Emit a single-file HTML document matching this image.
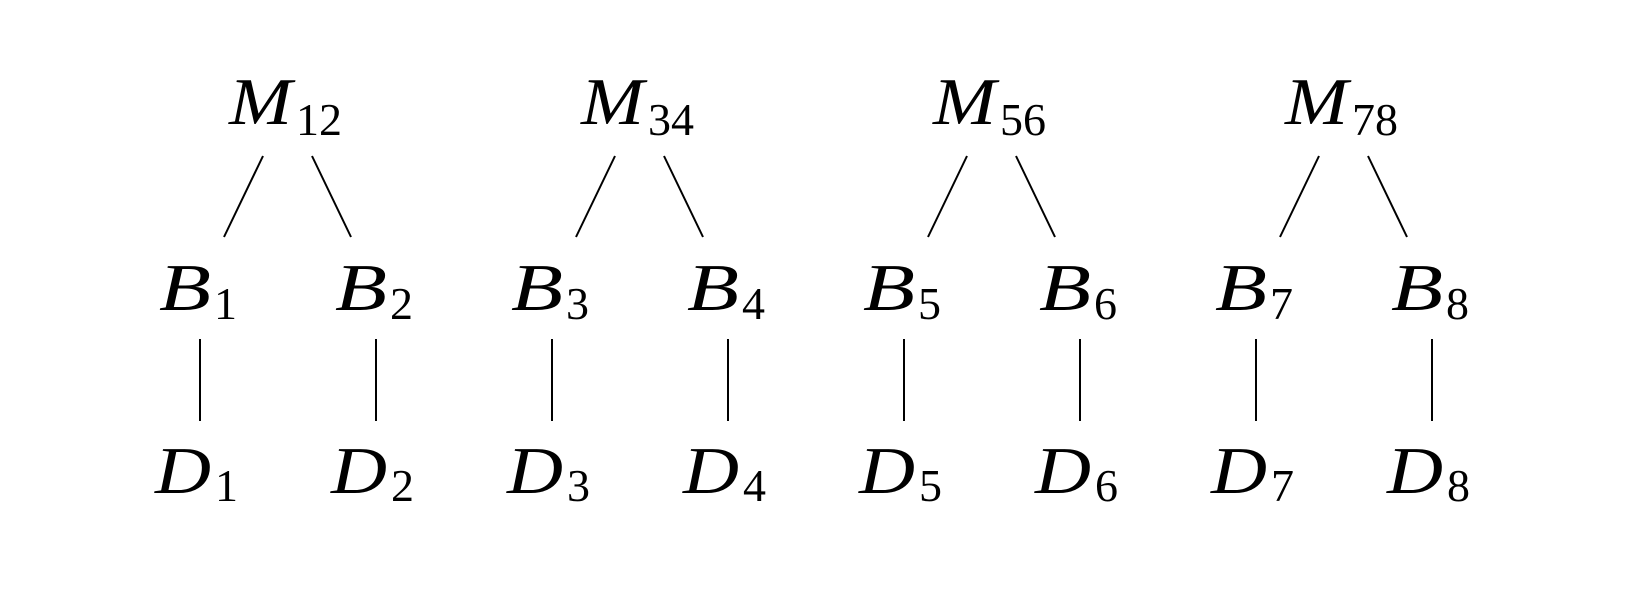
<!DOCTYPE html>
<html><head><meta charset="utf-8"><style>
html,body{margin:0;padding:0;background:#fff;}
svg{display:block}
text{font-family:"Liberation Serif",serif;fill:#000}
.v{font-style:italic;font-size:67px}
.s{font-size:46px}
</style></head><body>
<svg width="1638" height="598" viewBox="0 0 1638 598" xmlns="http://www.w3.org/2000/svg">
<g stroke="#000" stroke-width="2" fill="none">
<g id="t0">
<line x1="263" y1="156" x2="224" y2="237"/>
<line x1="312" y1="156" x2="351" y2="237"/>
<line x1="200" y1="339" x2="200" y2="421"/>
<line x1="376" y1="339" x2="376" y2="421"/>
</g>
<use href="#t0" x="352"/>
<use href="#t0" x="704"/>
<use href="#t0" x="1056"/>
</g>
<g>
<text class="v" x="229" y="124" textLength="63" lengthAdjust="spacingAndGlyphs">M</text>
<text class="s" x="296" y="135">12</text>
<text class="v" x="159" y="310" textLength="52" lengthAdjust="spacingAndGlyphs">B</text>
<text class="s" x="214" y="319">1</text>
<text class="v" x="335" y="310" textLength="52" lengthAdjust="spacingAndGlyphs">B</text>
<text class="s" x="390" y="319">2</text>
<text class="v" x="155" y="493" textLength="56" lengthAdjust="spacingAndGlyphs">D</text>
<text class="s" x="215" y="501">1</text>
<text class="v" x="331" y="493" textLength="56" lengthAdjust="spacingAndGlyphs">D</text>
<text class="s" x="391" y="501">2</text>
</g>
<g transform="translate(352,0)">
<text class="v" x="229" y="124" textLength="63" lengthAdjust="spacingAndGlyphs">M</text>
<text class="s" x="296" y="135">34</text>
<text class="v" x="159" y="310" textLength="52" lengthAdjust="spacingAndGlyphs">B</text>
<text class="s" x="214" y="319">3</text>
<text class="v" x="335" y="310" textLength="52" lengthAdjust="spacingAndGlyphs">B</text>
<text class="s" x="390" y="319">4</text>
<text class="v" x="155" y="493" textLength="56" lengthAdjust="spacingAndGlyphs">D</text>
<text class="s" x="215" y="501">3</text>
<text class="v" x="331" y="493" textLength="56" lengthAdjust="spacingAndGlyphs">D</text>
<text class="s" x="391" y="501">4</text>
</g>
<g transform="translate(704,0)">
<text class="v" x="229" y="124" textLength="63" lengthAdjust="spacingAndGlyphs">M</text>
<text class="s" x="296" y="135">56</text>
<text class="v" x="159" y="310" textLength="52" lengthAdjust="spacingAndGlyphs">B</text>
<text class="s" x="214" y="319">5</text>
<text class="v" x="335" y="310" textLength="52" lengthAdjust="spacingAndGlyphs">B</text>
<text class="s" x="390" y="319">6</text>
<text class="v" x="155" y="493" textLength="56" lengthAdjust="spacingAndGlyphs">D</text>
<text class="s" x="215" y="501">5</text>
<text class="v" x="331" y="493" textLength="56" lengthAdjust="spacingAndGlyphs">D</text>
<text class="s" x="391" y="501">6</text>
</g>
<g transform="translate(1056,0)">
<text class="v" x="229" y="124" textLength="63" lengthAdjust="spacingAndGlyphs">M</text>
<text class="s" x="296" y="135">78</text>
<text class="v" x="159" y="310" textLength="52" lengthAdjust="spacingAndGlyphs">B</text>
<text class="s" x="214" y="319">7</text>
<text class="v" x="335" y="310" textLength="52" lengthAdjust="spacingAndGlyphs">B</text>
<text class="s" x="390" y="319">8</text>
<text class="v" x="155" y="493" textLength="56" lengthAdjust="spacingAndGlyphs">D</text>
<text class="s" x="215" y="501">7</text>
<text class="v" x="331" y="493" textLength="56" lengthAdjust="spacingAndGlyphs">D</text>
<text class="s" x="391" y="501">8</text>
</g>
</svg>
</body></html>
